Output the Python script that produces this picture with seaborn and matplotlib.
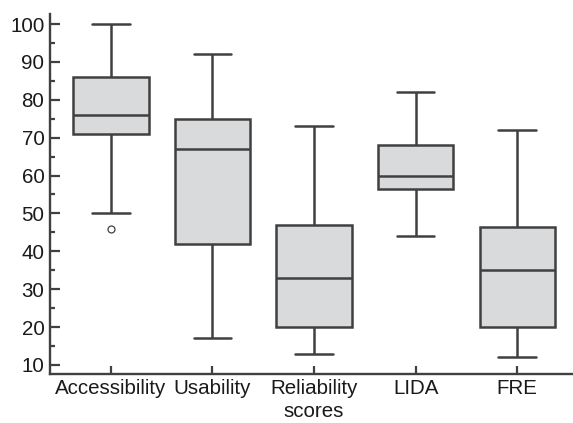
import matplotlib
matplotlib.use("Agg")
import matplotlib.pyplot as plt
import seaborn as sns
import pandas as pd
from matplotlib.ticker import MultipleLocator

categories = ["Accessibility", "Usability", "Reliability\nscores", "LIDA", "FRE"]
whisker_low = [50, 17, 13, 44, 12]
q1 = [71, 42, 20, 56.5, 20]
median = [76, 67, 33, 60, 35]
q3 = [86, 75, 47, 68, 46.5]
whisker_high = [100, 92, 73, 82, 72]
outliers = [[46], [], [], [], []]

# Build 9-point samples whose quartiles (indices 2, 4, 6) and whiskers
# reproduce the box statistics
rows = []
for i, cat in enumerate(categories):
    lo, a, m, b, hi = whisker_low[i], q1[i], median[i], q3[i], whisker_high[i]
    first = outliers[i][0] if outliers[i] else (lo + a) / 2
    if outliers[i]:
        sample = [first, lo]
    else:
        sample = [lo, first]
    sample += [a, (a + m) / 2, m, (m + b) / 2, b, (b + hi) / 2, hi]
    for v in sample:
        rows.append({"cat": cat, "val": v})
df = pd.DataFrame(rows)

sns.set_style("ticks")
plt.rcParams["font.family"] = ["Liberation Sans", "DejaVu Sans"]

fig = plt.figure(figsize=(5.73, 4.23), dpi=100)
ax = fig.add_axes([50 / 573, 1 - 374 / 423, 1 - 50 / 573, (374 - 14) / 423])

line_c = "#404040"
sns.boxplot(data=df, x="cat", y="val", order=categories, ax=ax,
            color="#d9dadc", saturation=1, linecolor=line_c, linewidth=1.8,
            width=0.74, whis=1.5,
            flierprops=dict(marker="o", markersize=5, markerfacecolor="white",
                            markeredgecolor=line_c, markeredgewidth=0.9))

ax.set_ylim(7.62, 102.64)
ax.set_xlim(-0.6, 4.55)
ax.yaxis.set_major_locator(MultipleLocator(10))
ax.yaxis.set_minor_locator(MultipleLocator(5))
ax.set_yticks(range(10, 101, 10))
ax.set_xlabel("")
ax.set_ylabel("")
for s in ["top", "right"]:
    ax.spines[s].set_visible(False)
for s in ["left", "bottom"]:
    ax.spines[s].set_color(line_c)
    ax.spines[s].set_linewidth(1.7)
ax.tick_params(axis="both", which="major", direction="in", length=7.5, width=1.6,
               color=line_c, labelsize=14.8, labelcolor="#1a1a1a")
ax.tick_params(axis="y", which="minor", direction="in", length=3.8, width=1.6, color=line_c)
ax.tick_params(axis="y", which="major", pad=4)
ax.tick_params(axis="x", which="major", pad=3.5, length=6)
for lbl in ax.get_xticklabels():
    lbl.set_linespacing(1.3)

fig.savefig("out.png", dpi=100)
